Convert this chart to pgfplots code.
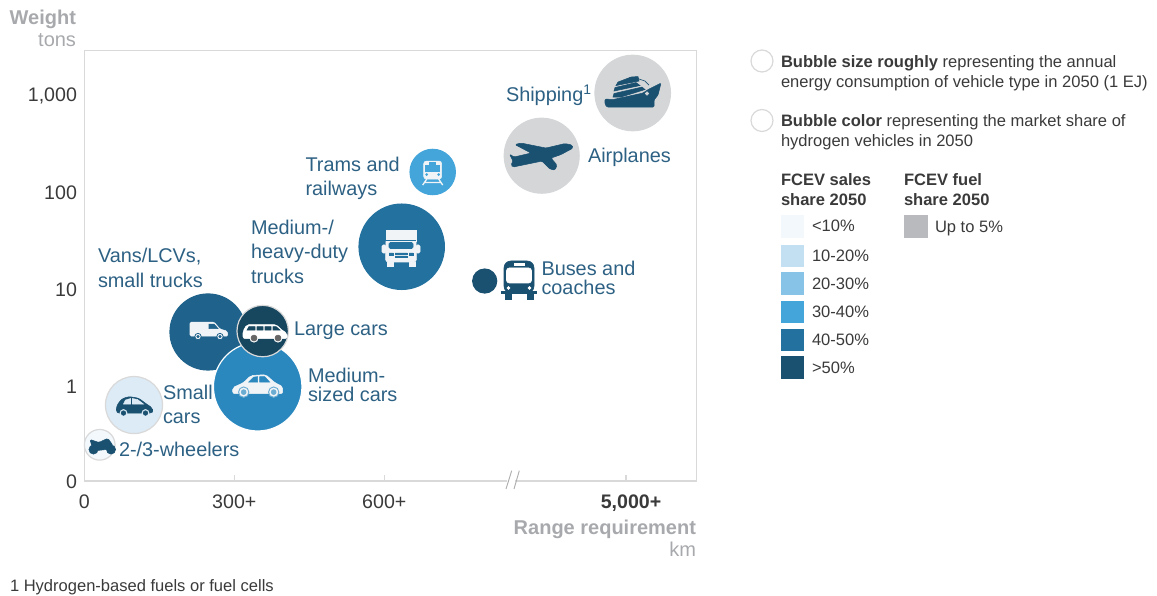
\documentclass[border=0pt]{standalone}
\usepackage{fontspec}
\setmainfont{Liberation Sans}
\usepackage{pgfplots}
\pgfplotsset{compat=1.18}
\definecolor{c0}{HTML}{F2F8FC}
\definecolor{c1}{HTML}{DCEBF6}
\definecolor{c1b}{HTML}{C2E0F1}
\definecolor{c2}{HTML}{86C3E6}
\definecolor{c3}{HTML}{44A5DA}
\definecolor{c3b}{HTML}{2A88BF}
\definecolor{c4}{HTML}{22719F}
\definecolor{c4b}{HTML}{1F628B}
\definecolor{c5}{HTML}{1A5070}
\definecolor{c5b}{HTML}{17465F}
\definecolor{gr}{HTML}{D4D6D8}
\definecolor{grs}{HTML}{B8BABD}
\definecolor{lab}{HTML}{2D6184}
\definecolor{axt}{HTML}{A7A9AC}
\definecolor{axl}{HTML}{D9D9D9}
\definecolor{txt}{HTML}{3A3A3A}
\definecolor{wh}{HTML}{F1F4F6}
% icons, drawn in reference pixels about their centre
\newcommand\iconscope[1]{\begin{scope}[x=.75pt,y=-.75pt]#1\end{scope}}
\pgfdeclareplotmark{van}{\iconscope{
 \fill[wh,rounded corners=1pt] (-19,-9)--(5,-9)--(11,-2)--(18,0)--(19,5)--(-19,5)--cycle;
 \fill[c4b] (0,-7)--(5,-7)--(9,-2.5)--(0,-2.5)--cycle;
 \fill[wh,draw=c4b,line width=.6pt] (-11,5.5) circle (3.2) (11,5.5) circle (3.2);
 \fill[c4b] (-11,5.5) circle (1.3) (11,5.5) circle (1.3);}}
\pgfdeclareplotmark{suv}{\iconscope{
 \fill[white,rounded corners=1.5pt] (-22,-2)--(-18,-8.5)--(11,-8.5)--(18,-2)--(22,0)--(22,5.5)--(-22,5.5)--cycle;
 \fill[c5b] (-16,-6.5)--(-10,-6.5)--(-10,-3)--(-18,-3)--cycle (-8,-6.5)--(-2,-6.5)--(-2,-3)--(-8,-3)--cycle (0,-6.5)--(6,-6.5)--(6,-3)--(0,-3)--cycle (8,-6.5)--(11,-6.5)--(15,-3)--(8,-3)--cycle;
 \fill[white] (-11,5) circle (4.2) (13,5) circle (4.2);
 \fill[black!60] (-11,5) circle (3) (13,5) circle (3);}}
\pgfdeclareplotmark{sedan}{\iconscope{
 \fill[wh,rounded corners=1.5pt] (-25,2)--(-14,-3)--(-7,-10)--(8,-11)--(17,-3)--(25,1)--(25,8)--(-25,8)--cycle;
 \fill[c3b] (-9,-3.5)--(-4,-8.5)--(0,-9)--(0,-3.5)--cycle (2,-9)--(7,-9)--(12,-3.5)--(2,-3.5)--cycle;
 \fill[wh,draw=c3b!70,line width=.7pt] (-14,6.5) circle (5.2) (16,6.5) circle (5.2);
 \fill[c3b!70] (-14,6.5) circle (2.5) (16,6.5) circle (2.5);}}
\pgfdeclareplotmark{minicar}{\iconscope{
 \fill[c5,rounded corners=2pt] (-18,7)--(-18,0)--(-13,-7)--(-6,-9.5)--(4,-8)--(12,-2)--(18,2)--(18,7)--cycle;
 \fill[c1] (-11,-2)--(-9,-6)--(-4,-7.5)--(-4,-2)--cycle (-2,-7.5)--(3,-6.5)--(9,-2)--(-2,-2)--cycle;
 \fill[c1] (-11,7) circle (3.6) (11,7) circle (3.6);
 \fill[c5] (-11,7) circle (2.3) (11,7) circle (2.3);}}
\pgfdeclareplotmark{moto}{\iconscope{
 \fill[c5] (-8.5,3) circle (4.6) (9,3) circle (4.6);
 \fill[c5,rounded corners=1pt] (-12,-7)--(-3,-4)--(3,-7)--(6,-8)--(11,-1)--(4,3)--(-5,4)--(-10,0)--cycle;}}
\pgfdeclareplotmark{ship}{\iconscope{
 \fill[c5,rounded corners=.8pt] (-28,7)--(-20,7.5)--(10,1)--(16,-3)--(28,-9)--(25,3)--(21,8)--(21,15)--(-26,15)--(-28,12)--cycle;
 \fill[gr] (14,1.5) circle (1.8);
 \fill[c5] (-20,5)--(-19,1.5)--(9,-5)--(12,-2.5)--(-12,5)--cycle;
 \fill[c5] (-19,-1)--(-18,-4.5)--(3,-9.5)--(7,-6.5)--cycle;
 \fill[c5] (-17,-6.5)--(-15,-10)--(-2,-15)--(5,-15.5)--(6,-11)--cycle;
 \draw[c5,line width=.5pt] (3,-14)--(12,-11)--(16,-7);}}
\pgfdeclareplotmark{plane}{\iconscope{
 \fill[c5,rounded corners=1pt] (-31.5,-2)--(-27,1)--(-10,-3)--(-26,-11.5)--(-20,-13)--(5,-8)--(24,-12.5)--(31,-11)--(32,-8)--(20,-1.5)--(10,2)--(16,9)--(14,14)--(9,13)--(1,5)--(-28,11)--(-30,9)--(-28,5)--cycle;}}
\pgfdeclareplotmark{train}{\iconscope{
 \fill[wh,rounded corners=2pt] (-9,-12)--(9,-12)--(9,6)--(-9,6)--cycle;
 \fill[c3] (-7,-7.5) rectangle (7,-2);
 \fill[c3] (-3,-11) rectangle (3,-9);
 \fill[c3] (-6,1.5) circle (1.1) (6,1.5) circle (1.1);
 \draw[wh,line width=1pt] (-6,6)--(-10,12) (6,6)--(10,12) (-8,9.5)--(8,9.5);}}
\pgfdeclareplotmark{truck}{\iconscope{
 \fill[wh] (-15,-18) rectangle (15,-7);
 \fill[wh,rounded corners=2pt] (-15,-9)--(15,-9)--(15.5,14)--(-15.5,14)--cycle;
 \fill[wh,rounded corners=1pt] (-19,-3) rectangle (-15,5) (15,-3) rectangle (19,5);
 \draw[c4,line width=.5pt] (-15,-8)--(15,-8);
 \fill[c4,rounded corners=1pt] (-12,-5.5) rectangle (12,0.5);
 \fill[c4] (-6,5) rectangle (6,6.2) (-6,8) rectangle (6,9.2);
 \fill[c4] (-12,5) rectangle (-8,7) (8,5) rectangle (12,7);
 \fill[wh] (-14,14) rectangle (-8,18) (8,14) rectangle (14,18);}}
\pgfdeclareplotmark{bus}{\iconscope{
 \fill[c5,rounded corners=5pt] (-15,-19) rectangle (15,13);
 \fill[white,rounded corners=2pt] (-12.5,-12) rectangle (12.5,3);
 \fill[white] (-5,-17) rectangle (5,-14.5);
 \fill[c5] (-17.5,11) rectangle (17.5,13.5);
 \fill[c5] (-14,13) rectangle (-8,19) (8,13) rectangle (14,19);
 \fill[white] (-10.5,8) circle (1.6) (10.5,8) circle (1.6);}}
\newcommand\bubble[5]{\addplot[only marks,mark=*,mark size=#3pt,mark options={fill=#1,draw=#2,line width=.9pt}] coordinates {(#4,#5)};}
\newcommand\icon[3]{\addplot[only marks,mark=#1] coordinates {(#2,#3)};}
\begin{document}
\begin{tikzpicture}
\useasboundingbox (0,0) rectangle (867.75pt,447pt);
\begin{axis}[
 at={(63.225pt,86.25pt)},anchor=south west,scale only axis,
 width=459.3pt,height=322.7pt,clip=false,
 xmin=0,xmax=1224.8,ymode=log,ymin=0.105,ymax=2864,
 xtick={0,300,600,1083.4},xticklabels={0,300+,600+,\hspace*{7.5pt}\textbf{5,000+}},
 ytick={0.105,1,10,100,1000},yticklabels={0,1,10,100,{1,000}},
 minor tick length=0pt,major tick length=4.5pt,
 tick align=inside,xtick pos=bottom,
 ytick style={draw=none},
 xtick style={axl,line width=.8pt},
 axis line style={axl,line width=.9pt},
 tick label style={font=\fontsize{14.7}{16}\selectfont,text=txt},
 xticklabel style={yshift=-6.5pt},
 yticklabel style={xshift=-2pt,yshift=-.7pt},
 xlabel={},ylabel={},
]
\bubble{c4b}{c4b}{28.5}{247.4}{3.61}
\bubble{c3b}{white}{33.2}{346.8}{0.984}
\bubble{c5b}{axl}{19.3}{356.8}{3.69}
\bubble{c1}{axl}{21.4}{99.4}{0.637}
\bubble{c0}{axl}{11.5}{30.8}{0.248}
\bubble{gr}{gr}{28.3}{1096.8}{1050}
\bubble{gr}{gr}{28.1}{914.8}{237}
\bubble{c3}{c3}{17}{696.8}{161}
\bubble{c4}{c4}{32}{634.8}{27.3}
\bubble{c5}{c5}{9}{800.8}{12.1}
\icon{van}{249.4}{3.69}
\icon{suv}{361.4}{3.52}
\icon{sedan}{346.8}{1.01}
\icon{minicar}{100.4}{0.622}
\icon{moto}{35.4}{0.238}
\icon{ship}{1097.4}{1074}
\icon{plane}{913.4}{235}
\icon{train}{696.8}{157}
\icon{truck}{633.4}{26.5}
\icon{bus}{869.4}{12.4}
\end{axis}
\begin{scope}[x=.75pt,y=-.75pt,yshift=447pt,inner sep=0pt,outer sep=0pt]
\newcommand\Lb[3]{\node[anchor=base west,text=lab,font=\fontsize{14.9}{16}\selectfont] at (#1,#2) {#3};}
\Lb{506}{101.8}{Shipping\textsuperscript{1}}
\Lb{588}{162.5}{Airplanes}
\Lb{305.5}{171.8}{Trams and}
\Lb{305.5}{195.8}{railways}
\Lb{251}{234.8}{Medium-/}
\Lb{251}{258.8}{heavy-duty}
\Lb{251}{283.8}{trucks}
\Lb{541.5}{275.5}{Buses and}
\Lb{541.5}{294.3}{coaches}
\Lb{98}{262.8}{Vans/LCVs,}
\Lb{98}{287.8}{small trucks}
\Lb{294}{335.8}{Large cars}
\Lb{308}{382.8}{Medium-}
\Lb{308}{401.5}{sized cars}
\Lb{163}{400}{Small}
\Lb{163}{423.5}{cars}
\Lb{119}{456.5}{2-/3-wheelers}
% axis titles
\node[anchor=base east,text=axt,font=\fontsize{15}{16}\selectfont\bfseries] at (76,24.5) {Weight};
\node[anchor=base east,text=axt,font=\fontsize{15}{16}\selectfont] at (76,47) {tons};
\node[anchor=base east,text=axt,font=\fontsize{15}{16}\selectfont\bfseries] at (696,535) {Range requirement};
\node[anchor=base east,text=axt,font=\fontsize{15}{16}\selectfont] at (696,557) {km};
% axis break
\fill[white] (507,476)--(515,476)--(515,486)--(507,486)--cycle;
\draw[axl!80!black,line width=.7pt] (506,489)--(511.7,470.7) (514,489)--(519.3,470.7);
% legend
\draw[axl,fill=white,line width=.9pt] (762,61) circle (11) (762,120.5) circle (11);
\newcommand\Lg[3]{\node[anchor=base west,text=txt,font=\fontsize{12.4}{14}\selectfont] at (#1,#2) {#3};}
\Lg{781}{67.5}{\textbf{Bubble size roughly} representing the annual}
\Lg{781}{87.5}{energy consumption of vehicle type in 2050 (1 EJ)}
\Lg{781}{126.5}{\textbf{Bubble color} representing the market share of}
\Lg{781}{146.5}{hydrogen vehicles in 2050}
\Lg{781}{186}{\textbf{FCEV sales}}
\Lg{781}{206}{\textbf{share 2050}}
\Lg{904}{186}{\textbf{FCEV fuel}}
\Lg{904}{206}{\textbf{share 2050}}
\fill[c0] (781,215) rectangle (804,238);
\fill[c1b] (781,244.7) rectangle (804,267.3);
\fill[c2] (781,272) rectangle (804,295);
\fill[c3] (781,300.7) rectangle (804,323);
\fill[c4] (781,328.7) rectangle (804,351);
\fill[c5] (781,356) rectangle (804,379);
\fill[grs] (904,215) rectangle (927.7,238);
\Lg{812}{232}{<10\%}
\Lg{812}{261.5}{10-20\%}
\Lg{812}{289.5}{20-30\%}
\Lg{812}{317.5}{30-40\%}
\Lg{812}{346}{40-50\%}
\Lg{812}{373.5}{>50\%}
\Lg{935}{232.5}{Up to 5\%}
\node[anchor=base west,text=txt,font=\fontsize{12.4}{14}\selectfont] at (10,591.5) {1 Hydrogen-based fuels or fuel cells};
\end{scope}
\end{tikzpicture}
\end{document}
